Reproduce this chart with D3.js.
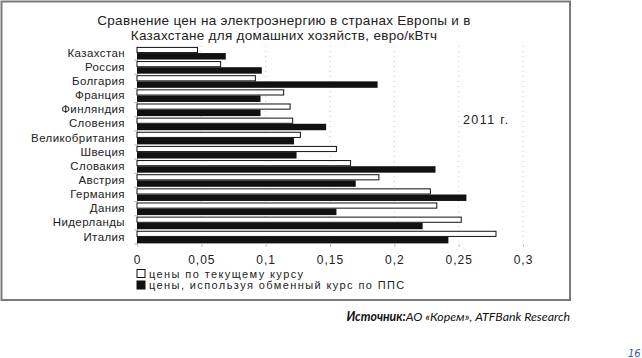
<!DOCTYPE html>
<html><head><meta charset="utf-8">
<script src="https://cdn.jsdelivr.net/npm/d3@7"></script>
<style>
body{margin:0;background:#fff;}
svg{display:block;}
</style></head>
<body>
<svg id="chart" width="642" height="358"></svg>
<script>
const countries = ["Казахстан","Россия","Болгария","Франция","Финляндия","Словения","Великобритания","Швеция","Словакия","Австрия","Германия","Дания","Нидерланды","Италия"];
const currentRate = [0.047,0.065,0.092,0.114,0.119,0.121,0.127,0.155,0.166,0.188,0.228,0.233,0.252,0.279];
const pppRate     = [0.069,0.097,0.187,0.096,0.096,0.147,0.122,0.124,0.232,0.170,0.256,0.155,0.222,0.242];
const tickValues = [0,0.05,0.1,0.15,0.2,0.25,0.3];
const tickLabels = ["0","0,05","0,1","0,15","0,2","0,25","0,3"];
const seriesNames = ["цены по текущему курсу","цены, используя обменный курс по ППС"];
const titleLines = ["Сравнение цен на электроэнергию в странах Европы и в","Казахстане для домашних хозяйств, евро/кВтч"];

const svg = d3.select("#chart");
const font = "'Liberation Sans', Arial, sans-serif";

// frame
svg.append("rect").attr("x",1.5).attr("y",1.5).attr("width",568.5).attr("height",298.5)
  .attr("fill","#fff").attr("stroke","#7a7a7a").attr("stroke-width",2);

// title
svg.append("g").selectAll("text").data(titleLines).join("text")
  .attr("x",284).attr("y",(d,i)=>25+i*14.5).attr("text-anchor","middle")
  .attr("font-family",font).attr("font-size",13.5).attr("letter-spacing",0.3)
  .attr("fill","#222").text(d=>d);

const x = d3.scaleLinear().domain([0,0.3]).range([137,523]);
const y = d3.scaleBand().domain(countries).range([46,244]).paddingInner(0);
const sub = d3.scaleBand().domain([0,1]).range([0,y.bandwidth()]).paddingOuter(0.25).paddingInner(0);

// gridlines (dotted)
svg.append("g").selectAll("line").data(tickValues.slice(1)).join("line")
  .attr("x1",d=>x(d)).attr("x2",d=>x(d)).attr("y1",46).attr("y2",245)
  .attr("stroke","#cccccc").attr("stroke-width",1).attr("stroke-dasharray","1,4");

// y axis with labels
const yAxis = d3.axisLeft(y).tickSize(0).tickPadding(12);
const yg = svg.append("g").attr("transform","translate(137,0)").call(yAxis);
yg.select(".domain").attr("stroke","#bbb");
yg.selectAll("text").attr("font-family",font).attr("font-size",11.5).attr("letter-spacing",0.4).attr("fill","#222");
// small tick marks at band boundaries
svg.append("g").selectAll("line").data(countries).join("line")
  .attr("x1",134).attr("x2",137).attr("y1",d=>y(d)+y.bandwidth()).attr("y2",d=>y(d)+y.bandwidth())
  .attr("stroke","#bbb");

// x axis
const xAxis = d3.axisBottom(x).tickValues(tickValues).tickFormat((d,i)=>tickLabels[i]).tickSize(3).tickPadding(8);
const xg = svg.append("g").attr("transform","translate(0,244)").call(xAxis);
xg.select(".domain").remove();
xg.selectAll("line").attr("stroke","#bbb");
xg.selectAll("text").attr("font-family",font).attr("font-size",12).attr("letter-spacing",1).attr("fill","#222");

// bars
const rows = countries.map((c,i)=>({c, v:[currentRate[i],pppRate[i]]}));
const grp = svg.append("g").selectAll("g").data(rows).join("g")
  .attr("transform",d=>`translate(0,${y(d.c)})`);
grp.append("rect").attr("x",x(0)).attr("y",sub(0)).attr("height",sub.bandwidth()-0.5)
  .attr("width",d=>x(d.v[0])-x(0)).attr("fill","#fff").attr("stroke","#111").attr("stroke-width",1);
grp.append("rect").attr("x",x(0)).attr("y",sub(1)).attr("height",sub.bandwidth()+0.8)
  .attr("width",d=>x(d.v[1])-x(0)).attr("fill","#111");

// year annotation
svg.append("text").attr("x",463).attr("y",124).attr("font-family",font).attr("font-size",12.5)
  .attr("letter-spacing",1.4).attr("fill","#222").text("2011 г.");

// legend
const lg = svg.append("g").selectAll("g").data(seriesNames).join("g")
  .attr("transform",(d,i)=>`translate(137,${269.5+i*11.5})`);
lg.append("rect").attr("width",8).attr("height",8).attr("y",0)
  .attr("fill",(d,i)=>i?"#111":"#fff").attr("stroke","#111").attr("stroke-width",1);
lg.append("text").attr("x",12).attr("y",8.2).attr("font-family",font).attr("font-size",11)
  .attr("letter-spacing",1.4).attr("fill","#222").text(d=>d);

// source
const src = svg.append("text").attr("x",570).attr("y",321).attr("text-anchor","end")
  .attr("font-family","Lato, 'Open Sans', sans-serif").attr("font-size",12.3).attr("font-style","italic").attr("fill","#111");
src.append("tspan").attr("font-weight","bold").text("Источник:");
src.append("tspan").text("АО «Корем», ATFBank Research");

// page number
svg.append("text").attr("x",628).attr("y",357).attr("font-family","'DejaVu Sans', sans-serif")
  .attr("font-size",10).attr("font-style","italic").attr("fill","#3a5aa8").text("16");
</script>
</body></html>
